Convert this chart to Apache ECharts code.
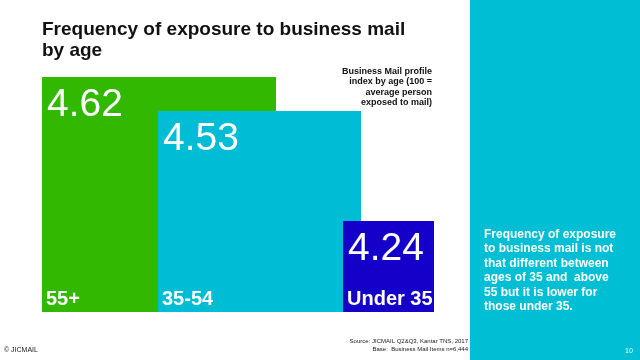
<!DOCTYPE html>
<html><head><meta charset="utf-8">
<script src="https://cdn.jsdelivr.net/npm/echarts@6/dist/echarts.min.js"></script>
<style>html,body{margin:0;padding:0;background:#fff}#c{width:640px;height:360px}</style>
</head><body><div id="c"></div>
<script>
const categories = ['55+', '35-54', 'Under 35'];
const values = [4.62, 4.53, 4.24];
const axisMin = 4.0;
const axisMax = 4.62;
const titleText = 'Frequency of exposure to business mail\nby age';
const noteText = 'Business Mail profile\nindex by age (100 =\naverage person\nexposed to mail)';
const panelText = 'Frequency of exposure\nto business mail is not\nthat different between\nages of 35 and  above\n55 but it is lower for\nthose under 35.';
const sourceText = 'Source: JICMAIL Q2&Q3, Kantar TNS, 2017\nBase:  Business Mail Items n=6,444';

const colors = ['#33B800', '#00BCD4', '#1400C8'];
const grids = [
  {left: 42, width: 234, top: 77, height: 235},
  {left: 158, width: 203, top: 77, height: 235},
  {left: 343, width: 91, top: 77, height: 235}
];
const FONT = 'Liberation Sans, Arial, sans-serif';

const chart = echarts.init(document.getElementById('c'));
const series = [];
categories.forEach((cat, i) => {
  series.push({
    type: 'bar', xAxisIndex: i, yAxisIndex: i, barWidth: '100%', z: 2 + i * 2,
    silent: true, animation: false,
    itemStyle: {color: colors[i]},
    data: [values[i]],
    label: {show: true, position: 'insideTopLeft', distance: 0, offset: [5, 9],
      formatter: (p) => p.value.toFixed(2),
      color: '#fff', fontFamily: FONT, fontSize: 39, fontWeight: 'normal'}
  });
  series.push({
    type: 'bar', xAxisIndex: i, yAxisIndex: i, barWidth: '100%', barGap: '-100%', z: 3 + i * 2,
    silent: true, animation: false,
    itemStyle: {color: 'rgba(0,0,0,0)'},
    data: [values[i]],
    label: {show: true, position: 'insideBottomLeft', distance: 0, offset: [4, -3],
      formatter: () => cat,
      color: '#fff', fontFamily: FONT, fontSize: 20, fontWeight: 'bold'}
  });
});

chart.setOption({
  animation: false,
  backgroundColor: '#fff',
  grid: grids,
  xAxis: categories.map((c, i) => ({type: 'category', gridIndex: i, data: [c], show: false})),
  yAxis: categories.map((c, i) => ({type: 'value', gridIndex: i, min: axisMin, max: axisMax, show: false})),
  title: {text: titleText, left: 37, top: 14,
    textStyle: {fontFamily: FONT, fontSize: 19, fontWeight: 'bold', color: '#111', lineHeight: 21}},
  graphic: [
    {type: 'rect', shape: {x: 470, y: 0, width: 170, height: 360}, style: {fill: '#00BFD4'}, z: 0},
    {type: 'text', x: 432, y: 66, style: {text: noteText, align: 'right', fill: '#111',
      font: 'bold 9px ' + FONT, lineHeight: 10.5}},
    {type: 'text', x: 484, y: 227, style: {text: panelText, fill: '#fff',
      font: 'bold 12px ' + FONT, lineHeight: 14.5}},
    {type: 'text', x: 468, y: 337, style: {text: sourceText, align: 'right', fill: '#222',
      font: '6px ' + FONT, lineHeight: 8}},
    {type: 'text', x: 4, y: 347, style: {text: '\u00A9 JICMAIL', fill: '#222', font: '7px ' + FONT}},
    {type: 'text', x: 625, y: 348, style: {text: '10', fill: '#fff', font: '7px ' + FONT}}
  ],
  series: series
});
</script></body></html>
